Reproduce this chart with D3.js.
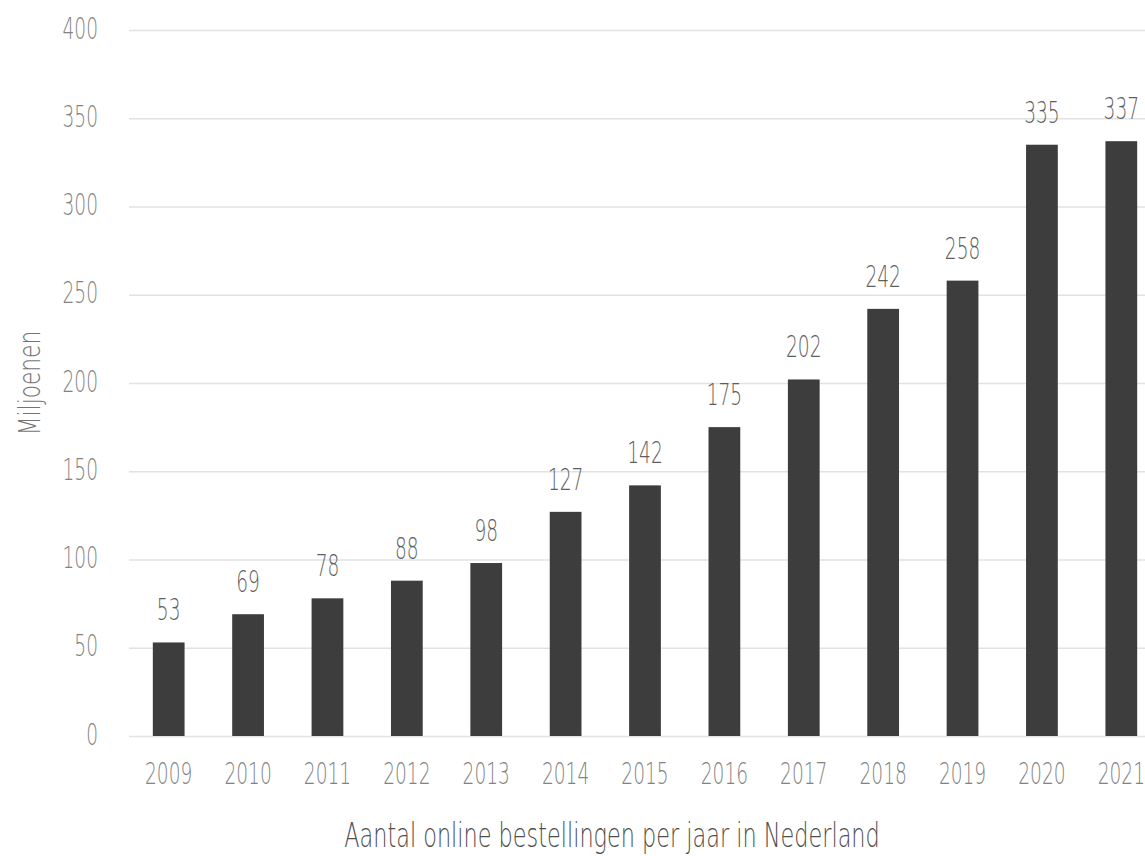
<!DOCTYPE html>
<html>
<head>
<meta charset="utf-8">
<script src="https://cdn.jsdelivr.net/npm/d3@7"></script>
<style>
  html, body { margin: 0; padding: 0; background: #ffffff; }
  svg { display: block; }
  text { font-family: "DejaVu Sans", sans-serif; font-weight: 200; }
</style>
</head>
<body>
<svg id="chart" width="1145" height="856"></svg>
<script>
const years = ["2009","2010","2011","2012","2013","2014","2015","2016","2017","2018","2019","2020","2021"];
const orders = [53, 69, 78, 88, 98, 127, 142, 175, 202, 242, 258, 335, 337];
const yTicks = [0, 50, 100, 150, 200, 250, 300, 350, 400];
const yTitle = "Miljoenen";
const xTitle = "Aantal online bestellingen per jaar in Nederland";

const svg = d3.select("#chart");
const W = 1145, H = 856;
const mLeft = 129, mTop = 30, mBottom = 736;
const SX = 0.62; // horizontal squeeze to imitate the condensed typeface

const x = d3.scaleBand().domain(years).range([mLeft, 1161]).paddingInner(0.6).paddingOuter(0.3);
const y = d3.scaleLinear().domain([0, 400]).range([mBottom, mTop]);

// condense helper: keep anchor position, squeeze glyphs horizontally
function condense(sel, sx) {
  sel.each(function () {
    const t = d3.select(this);
    const x0 = +t.attr("x") || 0;
    t.attr("x", x0 / sx).attr("transform", `scale(${sx},1)`);
  });
}

// gridlines + y tick labels
const yAxis = d3.axisLeft(y).tickValues(yTicks).tickSize(-(W - mLeft)).tickPadding(31);
const gy = svg.append("g").attr("transform", `translate(${mLeft},0)`).call(yAxis);
gy.select(".domain").remove();
gy.selectAll(".tick line").attr("stroke", "#e2e2e2").attr("stroke-width", 1.5);
gy.selectAll(".tick text")
  .attr("fill", "#828282").attr("font-size", 30).attr("dy", "0.27em")
  .attr("font-family", null);
condense(gy.selectAll(".tick text"), SX);

// bars
svg.append("g").selectAll("rect").data(orders).join("rect")
  .attr("x", (d, i) => x(years[i]))
  .attr("width", x.bandwidth())
  .attr("y", d => y(d))
  .attr("height", d => y(0) - y(d))
  .attr("fill", "#3d3d3d");

// value labels
svg.append("g").selectAll("g").data(orders).join("g")
  .attr("transform", (d, i) => `translate(${x(years[i]) + x.bandwidth() / 2},${y(d) - 22})`)
  .append("text")
  .attr("text-anchor", "middle")
  .attr("fill", "#5e5e5e").attr("font-size", 30)
  .text(d => d)
  .call(condense, SX);

// x axis labels
const xAxis = d3.axisBottom(x).tickSize(0).tickPadding(27);
const gx = svg.append("g").attr("transform", `translate(0,${mBottom})`).call(xAxis);
gx.select(".domain").remove();
gx.selectAll(".tick text").attr("fill", "#828282").attr("font-size", 30).attr("font-family", null);
condense(gx.selectAll(".tick text"), SX);

// axis titles
svg.append("g")
  .attr("transform", `translate(40,${(mTop + mBottom) / 2}) rotate(-90)`)
  .append("text")
  .attr("text-anchor", "middle")
  .attr("fill", "#747474").attr("font-size", 31)
  .text(yTitle)
  .call(condense, 0.7);

svg.append("g")
  .attr("transform", `translate(612,847)`)
  .append("text")
  .attr("text-anchor", "middle")
  .attr("fill", "#4e4e4e").attr("font-size", 33)
  .text(xTitle)
  .call(condense, 0.678);
</script>
</body>
</html>
